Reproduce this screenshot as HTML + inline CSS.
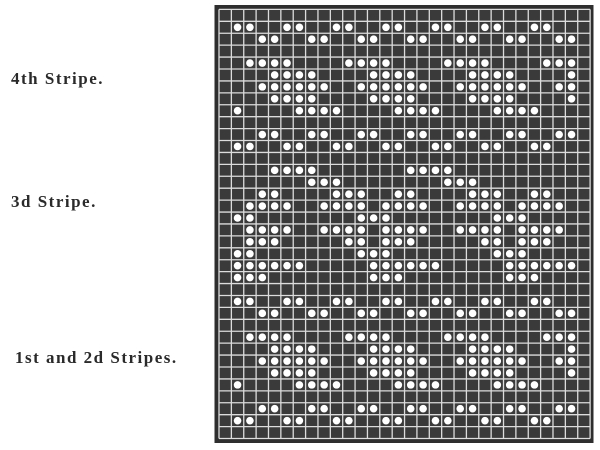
<!DOCTYPE html>
<html><head><meta charset="utf-8"><style>
html,body{margin:0;padding:0;background:#fff;}
body{width:600px;height:450px;position:relative;overflow:hidden;font-family:"Liberation Serif",serif;}
.lbl{position:absolute;font-size:17px;color:#2a2a2a;font-weight:bold;letter-spacing:1.5px;white-space:nowrap;}
</style></head><body>
<div class="lbl" style="left:11px;top:69px;">4th Stripe.</div>
<div class="lbl" style="left:11px;top:192px;">3d Stripe.</div>
<div class="lbl" style="left:15px;top:348px;">1st and 2d Stripes.</div>
<svg id="chart" width="600" height="450" style="position:absolute;left:0;top:0;"></svg>
<script>
const nCols = 30;
const nRows = 36;
const dotRows = [
"", "1,2,5,6,9,10,13,14,17,18,21,22,25,26", "3,4,7,8,11,12,15,16,19,20,23,24,27,28", "",
"2,3,4,5,10,11,12,13,18,19,20,21,26,27,28", "4,5,6,7,12,13,14,15,20,21,22,23,28",
"3,4,5,6,7,8,11,12,13,14,15,16,19,20,21,22,23,24,27,28", "4,5,6,7,12,13,14,15,20,21,22,23,28",
"1,6,7,8,9,14,15,16,17,22,23,24,25", "", "3,4,7,8,11,12,15,16,19,20,23,24,27,28",
"1,2,5,6,9,10,13,14,17,18,21,22,25,26", "", "4,5,6,7,15,16,17,18", "7,8,9,18,19,20",
"3,4,9,10,11,14,15,20,21,22,25,26", "2,3,4,5,8,9,10,11,13,14,15,16,19,20,21,22,24,25,26,27",
"1,2,11,12,13,22,23,24", "2,3,4,5,8,9,10,11,13,14,15,16,19,20,21,22,24,25,26,27",
"2,3,4,10,11,13,14,15,21,22,24,25,26", "1,2,11,12,13,22,23,24",
"1,2,3,4,5,6,12,13,14,15,16,17,23,24,25,26,27,28", "1,2,3,12,13,14,23,24,25", "",
"1,2,5,6,9,10,13,14,17,18,21,22,25,26", "3,4,7,8,11,12,15,16,19,20,23,24,27,28", "",
"2,3,4,5,10,11,12,13,18,19,20,21,26,27,28", "4,5,6,7,12,13,14,15,20,21,22,23,28",
"3,4,5,6,7,8,11,12,13,14,15,16,19,20,21,22,23,24,27,28", "4,5,6,7,12,13,14,15,20,21,22,23,28",
"1,6,7,8,9,14,15,16,17,22,23,24,25", "", "3,4,7,8,11,12,15,16,19,20,23,24,27,28",
"1,2,5,6,9,10,13,14,17,18,21,22,25,26", ""
];
const svg = document.getElementById('chart');
const NS = 'http://www.w3.org/2000/svg';
const x0 = 219, y0 = 9.4, cw = 12.37, ch = 11.92;
const xPos = c => x0 + c * cw;
const yPos = r => y0 + r * ch;
function mk(tag, attrs){const e=document.createElementNS(NS,tag);for(const k in attrs)e.setAttribute(k,attrs[k]);svg.appendChild(e);return e;}
const frame = mk('rect',{x:214.5,y:5,width:379,height:438,fill:'#2e2e2e'});


const bg = mk('rect',{x:x0,y:y0,width:nCols*cw,height:nRows*ch,fill:'#3a3a3a'});


for(let c=0;c<=nCols;c++){
  const l = mk('line',{x1:xPos(c),y1:y0,x2:xPos(c),y2:yPos(nRows),stroke:'#dcdcdc','stroke-width':1.3});
  
  
}
for(let r=0;r<=nRows;r++){
  const l = mk('line',{x1:x0,y1:yPos(r),x2:xPos(nCols),y2:yPos(r),stroke:'#dcdcdc','stroke-width':1.3});
  
  
}
dotRows.forEach((s,r)=>{
  if(!s) return;
  s.split(',').forEach(v=>{
    const c = +v;
    const d = mk('circle',{cx:xPos(c)+cw/2,cy:yPos(r)+ch/2,r:3.8,fill:'#fff'});
    
    
  });
});
</script>
</body></html>
